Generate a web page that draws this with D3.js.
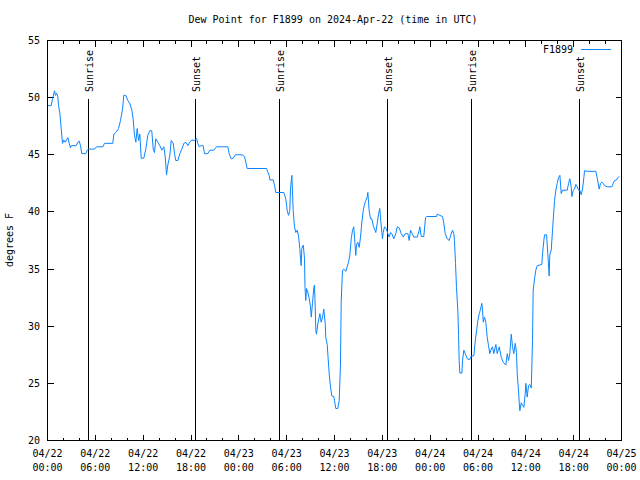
<!DOCTYPE html>
<html>
<head>
<meta charset="utf-8">
<script src="https://cdn.jsdelivr.net/npm/d3@7"></script>
<style>
body { margin: 0; background: #fff; }
svg { display: block; }
text { font-family: "DejaVu Sans Mono", monospace; font-size: 10px; fill: #000; }
</style>
</head>
<body>
<div id="chart"></div>
<script>
const title = "Dew Point for F1899 on 2024-Apr-22 (time in UTC)"
const station = "F1899"
const startDay = Date.UTC(2024, 3, 22)
const endDay = Date.UTC(2024, 3, 25)

// hours after 04/22 00:00 UTC
const hours = [0.04,0.46,0.63,0.88,1.0,1.13,1.29,1.38,1.54,1.72,1.88,2.04,2.22,2.38,2.55,2.72,2.89,2.97,3.6,3.8,3.98,4.14,4.3,4.8,4.98,5.14,5.9,6.15,6.94,7.15,8.19,8.32,8.62,8.91,9.16,9.41,9.57,9.82,10.07,10.32,10.58,10.75,10.91,11.08,11.25,11.42,11.58,11.75,12.08,12.33,12.58,12.83,13.08,13.26,13.42,13.59,13.84,14.09,14.34,14.59,14.76,14.93,15.09,15.34,15.52,15.77,15.93,16.09,16.35,16.6,16.85,17.1,17.35,17.6,17.85,18.1,18.44,18.69,18.85,19.03,19.28,19.53,19.69,20.11,20.36,20.86,21.2,22.62,22.79,23.04,23.29,23.58,24.42,24.71,24.87,25.05,27.47,27.63,27.81,27.89,28.31,28.48,28.64,29.64,29.89,30.07,30.23,30.39,30.48,30.65,30.82,30.98,31.15,31.32,31.49,31.65,31.74,31.82,31.9,32.08,32.15,32.24,32.3,32.4,32.49,32.65,32.83,32.99,33.08,33.24,33.41,33.49,33.58,33.66,33.74,33.91,34.08,34.16,34.33,34.5,34.66,34.84,34.91,35.09,35.16,35.34,35.5,35.66,35.91,36.0,36.16,36.41,36.59,36.75,36.84,37.0,37.17,37.42,37.59,37.76,37.92,38.1,38.26,38.42,38.51,38.67,38.76,38.92,39.1,39.26,39.43,39.6,39.77,39.93,40.1,40.18,40.35,40.52,40.68,40.86,41.02,41.18,41.36,41.52,41.68,41.77,41.94,42.02,42.11,42.27,42.52,42.69,42.86,43.03,43.19,43.44,43.69,43.87,44.12,44.37,44.62,44.87,45.2,45.37,45.54,45.75,45.95,46.38,46.63,46.7,46.88,47.2,47.42,47.54,48.8,48.88,49.21,49.55,49.71,49.89,50.14,50.39,50.55,50.8,50.97,51.05,51.18,51.3,51.47,51.56,51.64,51.72,51.98,52.06,52.22,52.4,52.56,52.73,52.98,53.16,53.48,53.66,53.82,53.98,54.16,54.32,54.48,54.57,54.66,54.82,54.98,55.16,55.32,55.48,55.66,55.82,55.98,56.24,56.41,56.66,56.91,57.16,57.49,57.67,57.83,57.99,58.17,58.33,58.49,58.67,58.83,58.92,59.08,59.17,59.25,59.42,59.58,59.75,59.92,60.0,60.17,60.34,60.5,60.68,60.84,60.92,61.09,61.25,61.43,62.01,62.09,62.26,62.35,62.6,62.76,62.93,63.01,63.18,63.35,63.6,63.76,63.94,64.1,64.27,64.44,64.6,65.19,65.36,65.52,65.69,65.77,65.95,66.11,66.27,66.45,66.61,66.77,66.95,67.11,67.28,67.36,67.7,68.78,68.95,69.2,69.37,69.53,69.71,69.87,70.21,70.79,70.96,71.13,71.38,71.54,71.72]

// dew point, degrees F
const dewPoint = [49.3,49.3,49.9,50.6,50.2,50.4,50.1,49.3,48.7,47.3,46.0,46.3,46.1,46.3,46.5,46.0,45.6,45.8,45.8,46.1,46.2,45.8,45.1,45.1,45.4,45.5,45.5,45.7,45.7,46.0,46.0,46.8,47.0,47.3,48.0,49.0,50.2,50.2,49.75,49.5,48.9,48.1,46.7,46.1,47.3,46.25,46.8,44.7,44.7,45.5,46.7,47.1,47.1,45.5,45.2,46.4,46.1,45.8,45.4,45.7,44.9,43.25,44.1,44.9,46.25,46.0,45.1,44.5,44.5,45.1,45.5,46.0,46.1,45.8,46.1,46.3,46.25,46.45,46.0,45.7,45.8,45.8,45.1,45.1,45.4,45.4,45.7,45.7,45.1,44.65,44.7,45.0,45.0,44.85,44.35,43.8,43.8,43.5,43.2,42.8,42.8,42.3,41.7,41.7,41.15,40.1,39.7,40.1,42.0,43.2,40.1,38.7,38.2,38.4,37.9,36.8,35.9,35.3,36.8,37.1,36.6,35.9,33.4,32.25,33.3,33.0,32.4,31.7,30.8,32.0,33.4,33.6,31.7,29.6,29.3,30.2,30.8,31.1,30.35,30.8,31.5,30.2,29.0,28.4,27.6,25.8,24.7,23.9,23.85,23.5,22.8,22.8,23.5,26.7,32.1,34.9,35.0,34.8,35.2,35.6,36.2,37.65,38.4,38.7,37.8,36.2,37.1,37.35,36.9,37.8,39.1,40.1,40.7,41.0,41.3,41.7,40.1,39.4,39.4,38.8,38.5,38.2,39.0,39.8,40.3,39.5,38.2,37.65,38.2,38.7,38.5,38.1,37.8,38.2,38.1,37.65,38.1,38.7,38.6,38.1,37.8,38.1,38.1,37.5,38.4,38.1,37.8,37.8,38.4,38.7,37.85,37.85,39.5,39.6,39.6,39.8,39.7,39.6,39.0,38.1,37.65,37.5,37.9,38.4,38.1,37.5,35.5,33.4,31.4,29.2,27.0,25.9,25.9,27.0,27.9,27.6,27.3,27.1,27.1,27.4,27.4,28.75,29.6,30.5,31.1,31.5,32.0,31.4,30.35,30.8,30.35,29.0,28.3,27.6,28.0,28.2,27.6,28.4,27.6,28.2,27.3,26.85,26.6,27.6,27.0,27.6,29.3,28.2,27.6,28.5,27.7,25.8,24.4,23.35,22.6,23.3,23.1,22.9,24.1,25.0,23.8,24.8,24.9,24.6,28.75,33.1,34.15,34.9,35.3,35.4,36.3,37.5,38.0,38.0,36.3,34.4,36.3,36.6,38.4,41.0,41.9,42.5,43.0,43.2,41.6,41.9,41.9,42.5,42.9,42.2,41.35,41.9,42.0,42.4,42.2,41.9,41.9,41.5,42.0,43.0,43.6,43.55,43.55,43.0,42.0,42.5,42.6,42.5,42.3,42.2,42.2,42.5,42.75,42.8,43.0,43.1]

const sunLabels = ["Sunrise", "Sunset", "Sunrise", "Sunset", "Sunrise", "Sunset"]
const sunHours = [5.05, 18.48, 29.0, 42.57, 53.1, 66.7]
const yTicks = [20, 25, 30, 35, 40, 45, 50, 55]

const width = 640, height = 480
const margin = { top: 40, right: 19, bottom: 40, left: 47 }
const lineColor = "#0a85ff"

const data = hours.map((h, i) => ({ t: new Date(startDay + h * 3600e3), v: dewPoint[i] }))

const svg = d3.select("#chart").append("svg")
    .attr("width", width)
    .attr("height", height)

const x = d3.scaleUtc()
    .domain([startDay, endDay])
    .range([margin.left + 0.5, width - margin.right + 0.5])

const y = d3.scaleLinear()
    .domain([20, 55])
    .range([height - margin.bottom + 0.5, margin.top + 0.5])

svg.append("text")
    .attr("x", 333)
    .attr("y", 23)
    .attr("text-anchor", "middle")
    .text(title)

svg.append("text")
    .attr("transform", "translate(13,240) rotate(-90)")
    .attr("text-anchor", "middle")
    .text("degrees F")

// ticks, mirrored on both sides like gnuplot
const ticks = svg.append("g").attr("stroke", "#000").attr("shape-rendering", "crispEdges")
const minorTicks = x.ticks(d3.utcHour.every(2))
minorTicks.forEach(d => {
    const major = d.getUTCHours() % 6 === 0
    const len = major ? 6 : 3
    ticks.append("line").attr("x1", x(d)).attr("x2", x(d)).attr("y1", y(20)).attr("y2", y(20) - len)
    ticks.append("line").attr("x1", x(d)).attr("x2", x(d)).attr("y1", y(55)).attr("y2", y(55) + len)
})
yTicks.forEach(d => {
    ticks.append("line").attr("x1", x.range()[0]).attr("x2", x.range()[0] + 6).attr("y1", y(d)).attr("y2", y(d))
    ticks.append("line").attr("x1", x.range()[1]).attr("x2", x.range()[1] - 6).attr("y1", y(d)).attr("y2", y(d))
})

svg.append("g")
    .selectAll("text")
    .data(yTicks)
    .join("text")
    .attr("x", 40)
    .attr("y", d => y(d))
    .attr("dy", "0.35em")
    .attr("text-anchor", "end")
    .text(d => d)

const xLabels = svg.append("g")
    .selectAll("text")
    .data(x.ticks(d3.utcHour.every(6)))
    .join("text")
    .attr("text-anchor", "middle")
xLabels.append("tspan")
    .attr("x", d => x(d))
    .attr("y", 457)
    .text(d3.utcFormat("%m/%d"))
xLabels.append("tspan")
    .attr("x", d => x(d))
    .attr("y", 471)
    .text(d3.utcFormat("%H:%M"))

// sunrise / sunset markers
const sun = svg.append("g")
sunHours.forEach((h, i) => {
    const sx = Math.round(x(startDay + h * 3600e3)) + 0.5
    sun.append("line")
        .attr("x1", sx).attr("x2", sx)
        .attr("y1", 99).attr("y2", y(20))
        .attr("stroke", "#000")
        .attr("shape-rendering", "crispEdges")
    sun.append("text")
        .attr("transform", `translate(${sx + 4},92) rotate(-90)`)
        .attr("text-anchor", "start")
        .text(sunLabels[i])
})

const line = d3.line()
    .x(d => x(d.t))
    .y(d => y(d.v))

svg.append("path")
    .datum(data)
    .attr("fill", "none")
    .attr("stroke", lineColor)
    .attr("stroke-width", 1)
    .attr("d", line)

// legend
svg.append("text")
    .attr("x", 573)
    .attr("y", 53)
    .attr("text-anchor", "end")
    .text(station)
svg.append("line")
    .attr("x1", 581).attr("x2", 611)
    .attr("y1", 49.5).attr("y2", 49.5)
    .attr("stroke", lineColor)

svg.append("rect")
    .attr("x", x.range()[0])
    .attr("y", y(55))
    .attr("width", x.range()[1] - x.range()[0])
    .attr("height", y(20) - y(55))
    .attr("fill", "none")
    .attr("stroke", "#000")
    .attr("shape-rendering", "crispEdges")
</script>
</body>
</html>
